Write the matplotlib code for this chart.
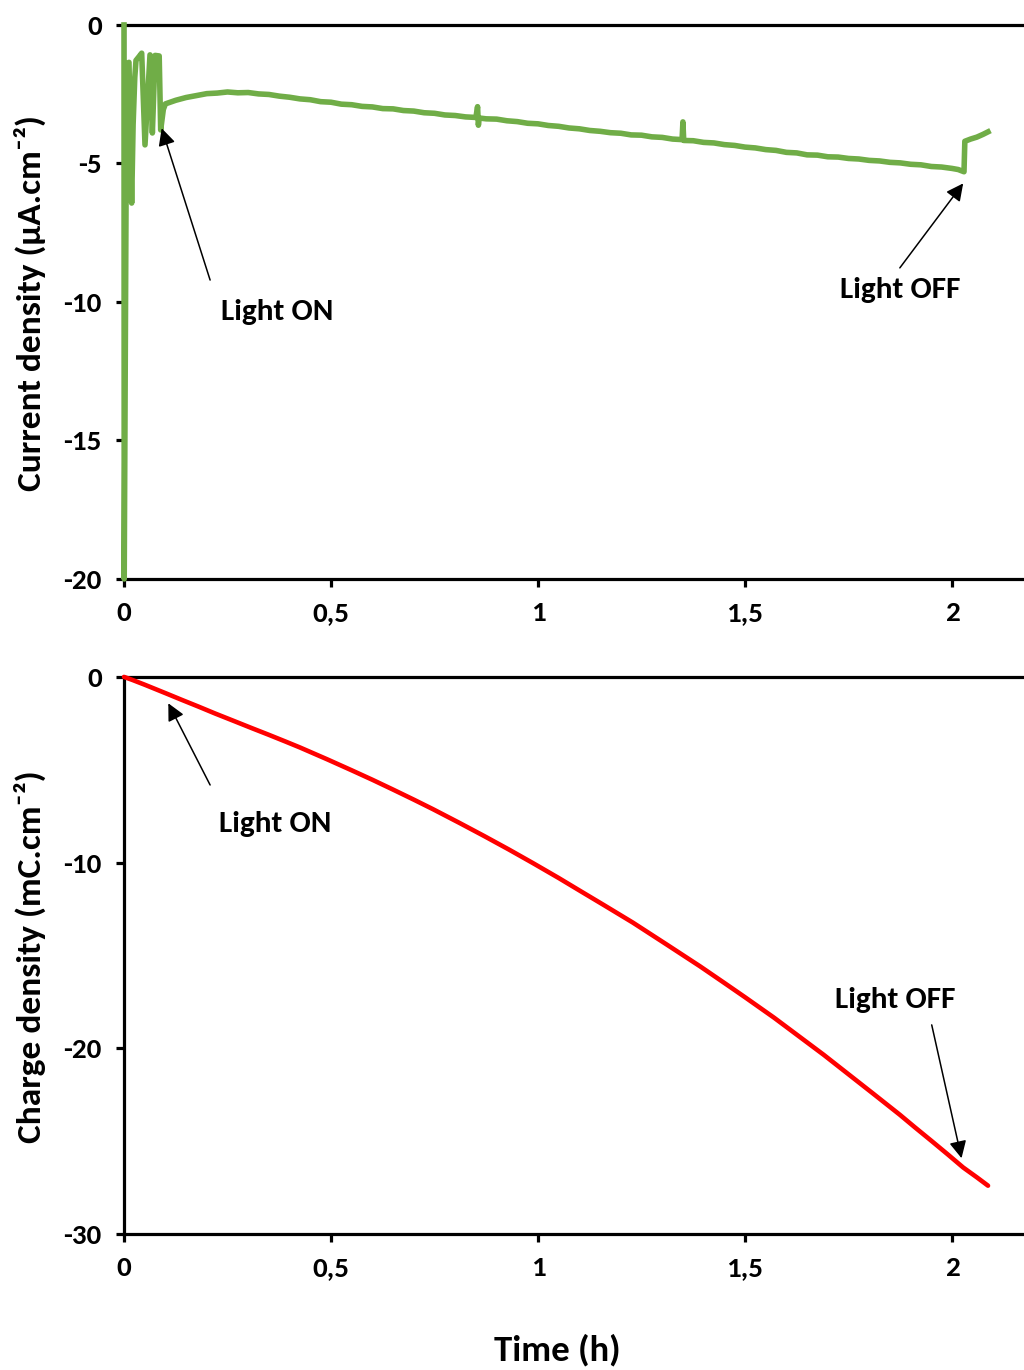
import matplotlib
matplotlib.use("Agg")
import matplotlib.pyplot as plt

# ---------------- data ----------------
time_current = [
    0.000, 0.0005, 0.0065, 0.012, 0.0185, 0.022, 0.026, 0.029, 0.036, 0.0427,
    0.0507, 0.0628, 0.0685, 0.075, 0.085, 0.0886, 0.095,
    0.100, 0.125, 0.150, 0.175, 0.200, 0.225, 0.250, 0.275, 0.300, 0.325,
    0.350, 0.375, 0.400, 0.425, 0.450, 0.475, 0.500, 0.525, 0.550, 0.575,
    0.600, 0.625, 0.650, 0.675, 0.700, 0.725, 0.750, 0.775, 0.800, 0.825, 0.850,
    0.854, 0.856, 0.858,
    0.875, 0.900, 0.925, 0.950, 0.975, 1.000, 1.025, 1.050, 1.075, 1.100,
    1.125, 1.150, 1.175, 1.200, 1.225, 1.250, 1.275, 1.300, 1.325,
    1.348, 1.350, 1.352,
    1.375, 1.400, 1.425, 1.450, 1.475, 1.500, 1.525, 1.550, 1.575, 1.600,
    1.625, 1.650, 1.675, 1.700, 1.725, 1.750, 1.775, 1.800, 1.825, 1.850,
    1.875, 1.900, 1.925, 1.950, 1.975, 2.000,
    2.015, 2.029, 2.031, 2.045, 2.060, 2.075, 2.087,
]
current_density = [
    0.0, -20.0, -1.40, -1.35, -6.43, -3.60, -1.90, -1.28, -1.15, -1.02,
    -4.33, -1.08, -3.90, -1.10, -1.12, -3.79, -3.05,
    -2.85, -2.72, -2.62, -2.55, -2.48, -2.46, -2.42, -2.45, -2.44, -2.49,
    -2.51, -2.57, -2.61, -2.67, -2.70, -2.77, -2.79, -2.86, -2.88, -2.94,
    -2.96, -3.02, -3.03, -3.09, -3.11, -3.17, -3.19, -3.25, -3.27, -3.32, -3.34,
    -2.95, -3.62, -3.36,
    -3.39, -3.40, -3.46, -3.49, -3.55, -3.57, -3.63, -3.66, -3.72, -3.75,
    -3.81, -3.84, -3.89, -3.91, -3.97, -3.98, -4.04, -4.06, -4.12,
    -4.14, -3.50, -4.17,
    -4.18, -4.24, -4.26, -4.32, -4.35, -4.41, -4.44, -4.50, -4.53, -4.60,
    -4.62, -4.69, -4.70, -4.76, -4.77, -4.82, -4.84, -4.89, -4.91, -4.96,
    -4.98, -5.03, -5.05, -5.11, -5.13, -5.18,
    -5.22, -5.30, -4.20, -4.12, -4.05, -3.95, -3.86,
]

time_charge = [0.0, 0.02, 0.05, 0.103, 0.14, 0.18, 0.22, 0.264, 0.31, 0.35,
               0.39, 0.425, 0.49, 0.55, 0.6, 0.65, 0.7, 0.746, 0.81, 0.87,
               0.93, 0.988, 1.05, 1.1, 1.16, 1.229, 1.31, 1.391, 1.45, 1.5,
               1.57, 1.633, 1.69, 1.75, 1.81, 1.874, 1.91, 1.95, 1.99, 2.027,
               2.06, 2.087]
charge_density = [0.0, -0.16, -0.42, -0.90, -1.24, -1.60, -1.97, -2.36, -2.77, -3.12,
                  -3.48, -3.80, -4.43, -5.03, -5.54, -6.07, -6.61, -7.12, -7.86, -8.57,
                  -9.30, -10.03, -10.83, -11.50, -12.30, -13.23, -14.40, -15.58, -16.48, -17.25,
                  -18.35, -19.40, -20.35, -21.40, -22.45, -23.58, -24.25, -24.98, -25.72, -26.42,
                  -26.95, -27.40]

x_ticks = [0, 0.5, 1, 1.5, 2]
x_tick_labels = ["0", "0,5", "1", "1,5", "2"]
top_y_ticks = [0, -5, -10, -15, -20]
bottom_y_ticks = [0, -10, -20, -30]

# ---------------- style ----------------
FONT = ["Carlito", "Lato", "DejaVu Sans"]
plt.rcParams["font.family"] = FONT
plt.rcParams["font.weight"] = "bold"

fig = plt.figure(figsize=(10.24, 13.70), dpi=100)
ax1 = fig.add_axes([0.1211, 0.5774, 0.8789, 0.4044])
ax2 = fig.add_axes([0.1211, 0.0993, 0.8789, 0.4066])

XMAX = (1024 - 124) / 414.0


def style_axis(ax, yticks, ylim):
    ax.set_xlim(0, XMAX)
    ax.set_ylim(*ylim)
    ax.set_xticks(x_ticks)
    ax.set_xticklabels(x_tick_labels)
    ax.set_yticks(yticks)
    ax.set_yticklabels([str(v) for v in yticks])
    ax.spines["right"].set_visible(False)
    for s in ("left", "top", "bottom"):
        ax.spines[s].set_linewidth(2.3)
        ax.spines[s].set_color("black")
    ax.tick_params(axis="both", direction="out", length=6, width=2.3,
                   labelsize=21, colors="black")
    ax.tick_params(axis="x", pad=10)
    ax.tick_params(axis="y", pad=10)
    for lab in ax.get_xticklabels() + ax.get_yticklabels():
        lab.set_fontweight("bold")


# ---------------- top: current density ----------------
ax1.plot(time_current, current_density, color="#70AD47", lw=4.0,
         solid_joinstyle="round", zorder=3, clip_on=False)
style_axis(ax1, top_y_ticks, (-20, 0))

arrow_kw = dict(arrowstyle="-|>", color="black", lw=1.1, mutation_scale=26,
                shrinkA=0, shrinkB=0)
txt_kw = dict(fontsize=22.5, fontweight="bold", ha="center", va="baseline")

ax1.annotate("", xy=(0.091, -3.73), xytext=(0.208, -9.21), arrowprops=arrow_kw)
ax1.text(0.371, -10.65, "Light ON", **txt_kw)
ax1.annotate("", xy=(2.027, -5.72), xytext=(1.874, -8.77), arrowprops=arrow_kw)
ax1.text(1.874, -9.86, "Light OFF", **txt_kw)

# ---------------- bottom: charge density ----------------
ax2.plot(time_charge, charge_density, color="#FF0000", lw=3.3,
         solid_capstyle="round", solid_joinstyle="round", zorder=3, clip_on=False)
style_axis(ax2, bottom_y_ticks, (-30, 0))

ax2.annotate("", xy=(0.107, -1.42), xytext=(0.208, -5.82), arrowprops=arrow_kw)
ax2.text(0.365, -8.35, "Light ON", **txt_kw)
ax2.annotate("", xy=(2.023, -25.92), xytext=(1.951, -18.74), arrowprops=arrow_kw)
ax2.text(1.862, -17.83, "Light OFF", **txt_kw)

# ---------------- labels ----------------
fig.text(0.0293, 0.7788, "Current density (µA.cm⁻²)", rotation=90,
         ha="center", va="center", fontsize=25.5, fontweight="bold")
fig.text(0.0293, 0.3015, "Charge density (mC.cm⁻²)", rotation=90,
         ha="center", va="center", fontsize=25.5, fontweight="bold")
fig.text(0.544, 0.0146, "Time (h)", ha="center", va="center",
         fontsize=26.5, fontweight="bold")

fig.savefig("out.png", dpi=100)
